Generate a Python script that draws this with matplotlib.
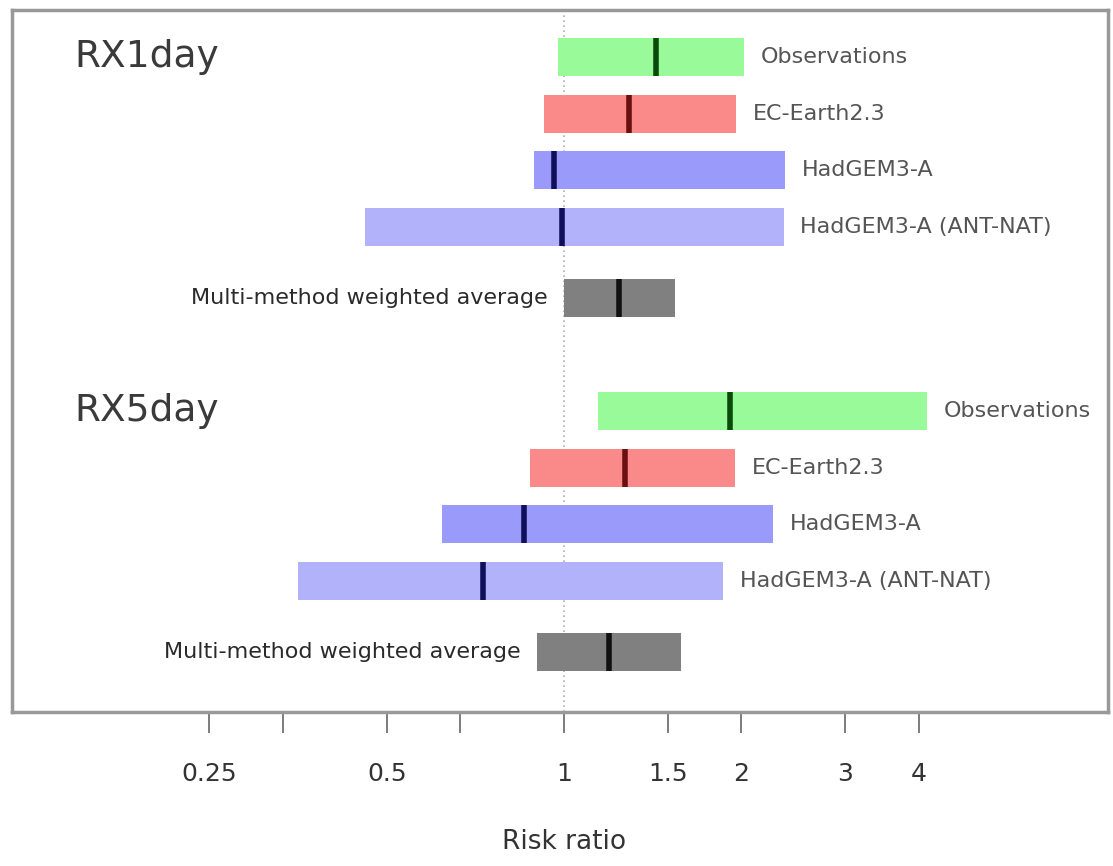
import matplotlib
matplotlib.use("Agg")
import matplotlib.pyplot as plt
import numpy as np

plt.rcParams['font.family'] = ['DejaVu Sans']

# ---- data ----
groups = ["RX1day", "RX5day"]
sources = ["Observations", "EC-Earth2.3", "HadGEM3-A", "HadGEM3-A (ANT-NAT)",
           "Multi-method weighted average"]
rx1_low = [0.977, 0.925, 0.89, 0.459, 1.0]
rx1_best = [1.43, 1.29, 0.96, 0.99, 1.24]
rx1_high = [2.02, 1.96, 2.37, 2.36, 1.54]
rx5_low = [1.14, 0.875, 0.62, 0.353, 0.90]
rx5_best = [1.91, 1.27, 0.855, 0.728, 1.19]
rx5_high = [4.13, 1.95, 2.26, 1.86, 1.58]
tick_vals = [0.25, 1/3, 0.5, 2/3, 1, 1.5, 2, 3, 4]
tick_labels = ["0.25", "", "0.5", "", "1", "1.5", "2", "3", "4"]

fill_colors = ["#98fa98", "#fa8a8a", "#9a9afa", "#b2b2fa", "#808080"]
line_colors = ["#0a4a0a", "#6a1010", "#10105a", "#10105a", "#111111"]

fig = plt.figure(figsize=(11.13, 8.66), dpi=100)
ax = fig.add_axes([12/1113, 1-712/866, (1108-12)/1113, (712-10)/866])
ax.set_xscale('log', base=2)
shift = 2 ** (-0.012)
ax.set_xlim(0.1165 * shift, 8.45 * shift)
ax.set_ylim(12.56, 0.17)

bar_h = 0.67
offsets = [0, 1, 2, 3, 4.25]
group_starts = [1, 7.25]
data = [(rx1_low, rx1_best, rx1_high), (rx5_low, rx5_best, rx5_high)]

ax.axvline(1, color='#b0b0b0', lw=1.2, ls=(0, (1, 2)), zorder=0)

for gi, (g, (lo, be, hi)) in enumerate(zip(groups, data)):
    y0 = group_starts[gi]
    ax.text(0.1475, y0, g, fontsize=27, color='#3a3a3a', va='center', ha='left')
    for si, s in enumerate(sources):
        y = y0 + offsets[si]
        ax.barh(y, hi[si] - lo[si], left=lo[si], height=bar_h,
                color=fill_colors[si], edgecolor='none', zorder=2)
        ax.plot([be[si], be[si]], [y - bar_h/2, y + bar_h/2],
                color=line_colors[si], lw=4, solid_capstyle='butt', zorder=3)
        if si < 4:
            ax.annotate(s, (hi[si], y), xytext=(12, 0), textcoords='offset points',
                        va='center', ha='left', fontsize=16, color='#555555')
        else:
            ax.annotate(s, (lo[si], y), xytext=(-12, 0), textcoords='offset points',
                        va='center', ha='right', fontsize=16, color='#2a2a2a')

for sp in ax.spines.values():
    sp.set_color('#999999')
    sp.set_linewidth(2.5)

ax.set_yticks([])
ax.xaxis.set_minor_locator(matplotlib.ticker.NullLocator())
ax.set_xticks(tick_vals)
ax.set_xticklabels(tick_labels, fontsize=18, color='#333333')
ax.tick_params(axis='x', direction='out', length=15, width=1.2, color='#666666', pad=21)
ax.set_xlabel("Risk ratio", fontsize=19, color='#333333')
ax.xaxis.set_label_coords((564 - 12) / 1096, (712 - 842) / 702)
ax.xaxis.label.set_va('center')

fig.savefig("out.png", dpi=100)
